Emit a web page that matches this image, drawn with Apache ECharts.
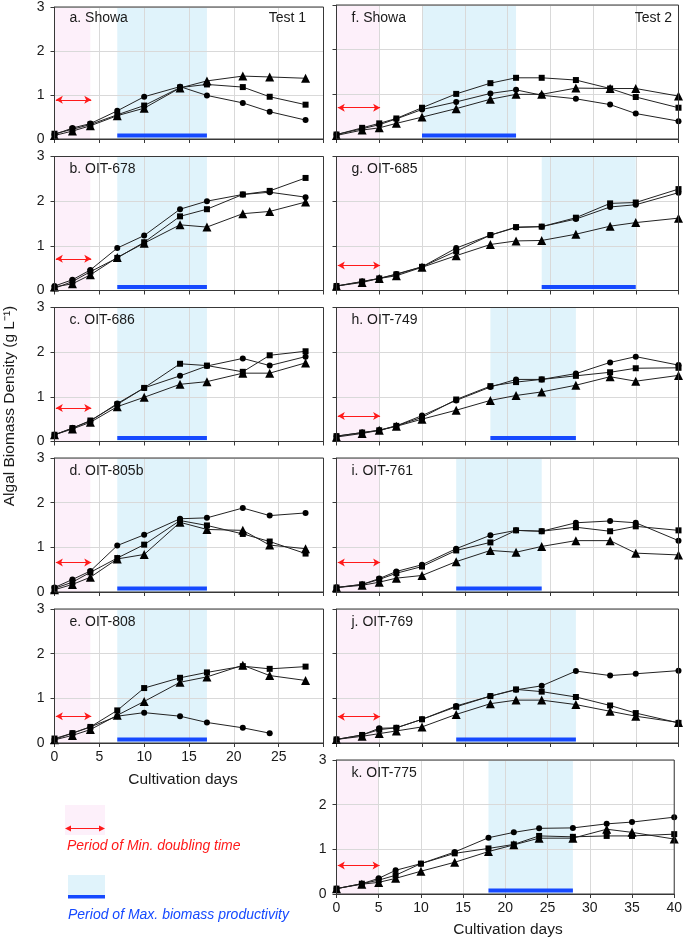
<!DOCTYPE html>
<html><head><meta charset="utf-8">
<script src="https://cdn.jsdelivr.net/npm/echarts@6/dist/echarts.min.js"></script>
<style>html,body{margin:0;padding:0;background:#fff}#c{width:685px;height:941px}</style>
</head><body><div id="c"></div>
<script>
// ---------- data ----------
const days1 = [0, 2, 4, 7, 10, 14, 17, 21, 24, 28];
const days2 = [0, 3, 5, 7, 10, 14, 18, 21, 24, 28, 32, 35, 40];

const panelTitles = ['a. Showa', 'b. OIT-678', 'c. OIT-686', 'd. OIT-805b', 'e. OIT-808',
                     'f. Showa', 'g. OIT-685', 'h. OIT-749', 'i. OIT-761', 'j. OIT-769', 'k. OIT-775'];

const aCircle   = [0.10, 0.25, 0.35, 0.64, 0.96, 1.19, 0.99, 0.82, 0.62, 0.43];
const aSquare   = [0.12, 0.22, 0.33, 0.55, 0.76, 1.17, 1.24, 1.18, 0.96, 0.78];
const aTriangle = [0.08, 0.18, 0.30, 0.53, 0.70, 1.16, 1.32, 1.43, 1.41, 1.38];

const bCircle   = [0.10, 0.24, 0.46, 0.95, 1.23, 1.82, 2.00, 2.15, 2.20, 2.09];
const bSquare   = [0.05, 0.20, 0.42, 0.73, 1.08, 1.66, 1.82, 2.15, 2.23, 2.52];
const bTriangle = [0.08, 0.15, 0.35, 0.74, 1.06, 1.47, 1.42, 1.72, 1.77, 1.98];

const cCircle   = [0.15, 0.30, 0.46, 0.85, 1.20, 1.47, 1.69, 1.86, 1.70, 1.90];
const cSquare   = [0.15, 0.30, 0.47, 0.83, 1.20, 1.74, 1.70, 1.56, 1.93, 2.02];
const cTriangle = [0.15, 0.28, 0.43, 0.78, 0.99, 1.28, 1.34, 1.53, 1.53, 1.76];

const dCircle   = [0.10, 0.28, 0.47, 1.04, 1.28, 1.64, 1.66, 1.88, 1.71, 1.77];
const dSquare   = [0.08, 0.22, 0.44, 0.76, 1.06, 1.60, 1.49, 1.30, 1.13, 0.86];
const dTriangle = [0.05, 0.17, 0.33, 0.74, 0.84, 1.56, 1.40, 1.38, 1.05, 0.97];

const eCircle   = [0.08, 0.22, 0.36, 0.60, 0.68, 0.60, 0.46, 0.34, 0.22, null];
const eSquare   = [0.10, 0.22, 0.36, 0.73, 1.23, 1.46, 1.58, 1.72, 1.66, 1.71];
const eTriangle = [0.07, 0.17, 0.30, 0.62, 0.93, 1.36, 1.48, 1.74, 1.51, 1.40];

const fCircle   = [0.10, 0.23, 0.32, 0.45, 0.66, 0.83, 1.02, 1.10, 0.98, 0.90, 0.77, 0.57, 0.40];
const fSquare   = [0.10, 0.25, 0.35, 0.46, 0.70, 1.01, 1.25, 1.37, 1.37, 1.32, 1.13, 0.94, 0.70];
const fTriangle = [0.08, 0.20, 0.25, 0.35, 0.49, 0.68, 0.89, 1.00, 1.00, 1.14, 1.13, 1.13, 0.96];

const gCircle   = [0.10, 0.20, 0.27, 0.37, 0.53, 0.95, 1.24, 1.41, 1.43, 1.60, 1.87, 1.92, 2.19];
const gSquare   = [0.10, 0.20, 0.27, 0.36, 0.53, 0.88, 1.24, 1.42, 1.43, 1.63, 1.95, 1.97, 2.27];
const gTriangle = [0.10, 0.18, 0.27, 0.33, 0.52, 0.78, 1.03, 1.11, 1.12, 1.26, 1.44, 1.52, 1.62];

const hCircle   = [0.12, 0.20, 0.25, 0.35, 0.58, 0.92, 1.22, 1.39, 1.39, 1.52, 1.77, 1.90, 1.71];
const hSquare   = [0.12, 0.20, 0.25, 0.35, 0.54, 0.94, 1.24, 1.33, 1.39, 1.47, 1.55, 1.64, 1.65];
const hTriangle = [0.10, 0.18, 0.25, 0.34, 0.50, 0.70, 0.92, 1.03, 1.11, 1.26, 1.45, 1.35, 1.48];

const iCircle   = [0.10, 0.17, 0.30, 0.46, 0.61, 0.97, 1.27, 1.38, 1.36, 1.55, 1.59, 1.55, 1.15];
const iSquare   = [0.10, 0.17, 0.28, 0.42, 0.57, 0.93, 1.11, 1.38, 1.36, 1.45, 1.36, 1.47, 1.38];
const iTriangle = [0.10, 0.15, 0.22, 0.31, 0.37, 0.68, 0.93, 0.89, 1.02, 1.15, 1.15, 0.87, 0.83];

const jCircle   = [0.08, 0.18, 0.33, 0.34, 0.53, 0.83, 1.05, 1.19, 1.28, 1.61, 1.51, 1.55, 1.62];
const jSquare   = [0.08, 0.18, 0.30, 0.34, 0.53, 0.81, 1.05, 1.20, 1.15, 1.03, 0.84, 0.67, 0.45];
const jTriangle = [0.08, 0.15, 0.21, 0.27, 0.36, 0.64, 0.88, 0.96, 0.96, 0.86, 0.71, 0.60, 0.46];

const kCircle   = [0.12, 0.23, 0.35, 0.53, 0.68, 0.94, 1.26, 1.38, 1.47, 1.48, 1.57, 1.61, 1.72];
const kSquare   = [0.12, 0.23, 0.31, 0.42, 0.68, 0.91, 1.02, 1.11, 1.30, 1.28, 1.30, 1.30, 1.34];
const kTriangle = [0.12, 0.22, 0.26, 0.35, 0.51, 0.71, 0.95, 1.10, 1.25, 1.25, 1.45, 1.38, 1.23];

// periods
const minDoublingTest1 = [0, 4];
const minDoublingTest2 = [0, 5];
const maxProdPeriods = [[7, 17], [7, 17], [7, 17], [7, 17], [7, 17],
                        [10, 21], [24, 35], [18, 28], [14, 24], [14, 28], [18, 28]];
const arrowLevels = [0.89, 0.71, 0.75, 0.66, 0.60, 0.70, 0.56, 0.57, 0.66, 0.59, 0.64];
const barLevel = 0.08;

const yTicks = [0, 1, 2, 3];

// ---------- layout ----------
const FONT = '"Liberation Sans", Arial, Helvetica, sans-serif';
const circles = [aCircle, bCircle, cCircle, dCircle, eCircle, fCircle, gCircle, hCircle, iCircle, jCircle, kCircle];
const squares = [aSquare, bSquare, cSquare, dSquare, eSquare, fSquare, gSquare, hSquare, iSquare, jSquare, kSquare];
const triangles = [aTriangle, bTriangle, cTriangle, dTriangle, eTriangle, fTriangle, gTriangle, hTriangle, iTriangle, jTriangle, kTriangle];
const tops = [5, 156.5, 307.5, 458, 609, 760];
const H = 134;
const colLeft = [54.5, 336.5];
const colWidth = [269, 342];
const PINK = '#fdf0fa', BLUE = '#e0f3fb', BAR = '#1549ff', RED = '#ff1a1a', FRAME = '#383838';

const grids = [], xAxes = [], yAxes = [], series = [], graphics = [];

for (let i = 0; i < 11; i++) {
  const col = i < 5 ? 0 : 1;
  const row = i < 5 ? i : i - 5;
  const days = col === 0 ? days1 : days2;
  const xmax = col === 0 ? 30 : 40;
  const pinkP = col === 0 ? minDoublingTest1 : minDoublingTest2;
  const showX = (i === 4 || i === 10);
  const showY = (col === 0 || i === 10);
  const left = colLeft[col], top = tops[row];
  grids.push({left: left, top: top, width: colWidth[col], height: H, show: true,
    borderColor: FRAME, borderWidth: 1, backgroundColor: 'rgba(0,0,0,0)', z: 10});
  xAxes.push({gridIndex: i, type: 'value', min: 0, max: xmax, interval: 5, z: 5,
    axisLine: {show: true, onZero: false, lineStyle: {color: FRAME, width: 1}},
    axisTick: {show: true, inside: false, length: 4, lineStyle: {color: FRAME}},
    axisLabel: {show: showX, fontSize: 14, color: '#1a1a1a', margin: 7, fontFamily: FONT,
      formatter: v => (col === 0 && v === 30) ? '' : String(v)},
    splitLine: {show: true, lineStyle: {color: '#d9d9d9', width: 1}}});
  yAxes.push({gridIndex: i, type: 'value', min: yTicks[0], max: yTicks[yTicks.length - 1], interval: 1, z: 5,
    axisLine: {show: true, onZero: false, lineStyle: {color: FRAME, width: 1}},
    axisTick: {show: true, inside: false, length: 4, lineStyle: {color: FRAME}},
    axisLabel: {show: showY, fontSize: 14, color: '#1a1a1a', margin: 10, fontFamily: FONT},
    splitLine: {show: true, lineStyle: {color: '#d9d9d9', width: 1}}});

  const per = maxProdPeriods[i];
  // shading host series
  series.push({type: 'line', xAxisIndex: i, yAxisIndex: i, data: [], z: 1, silent: true,
    markArea: {silent: true, data: [
      [{xAxis: pinkP[0], itemStyle: {color: PINK}}, {xAxis: pinkP[1]}],
      [{xAxis: per[0], itemStyle: {color: BLUE}}, {xAxis: per[1]}]
    ]},
    markLine: {silent: true, symbol: ['arrow', 'arrow'], symbolSize: [6, 7], animation: false,
      label: {show: false}, lineStyle: {color: RED, width: 1, type: 'solid'},
      data: [[{coord: [pinkP[0] + 0.15, arrowLevels[i]]}, {coord: [pinkP[1] + 0.1, arrowLevels[i]]}]]}
  });
  // max productivity bar
  series.push({type: 'line', xAxisIndex: i, yAxisIndex: i, z: 6, silent: true, symbol: 'none',
    data: [[per[0], barLevel], [per[1], barLevel]], lineStyle: {color: BAR, width: 4}});
  // data
  const sets = [[circles[i], 'circle', 6], [squares[i], 'rect', 6], [triangles[i], 'triangle', 9]];
  sets.forEach(([vals, sym, size]) => {
    series.push({type: 'line', xAxisIndex: i, yAxisIndex: i, z: 8, symbol: sym, symbolSize: size,
      showAllSymbol: true, connectNulls: false, animation: false,
      data: days.map((d, k) => [d, vals[k]]),
      lineStyle: {color: '#222', width: 1}, itemStyle: {color: '#000'}});
  });

  graphics.push({type: 'text', x: left + 15, y: top + 13, z: 20,
    style: {text: panelTitles[i], font: '14px ' + FONT, fill: '#1a1a1a', textAlign: 'left', textVerticalAlign: 'middle'}});
}
graphics.push({type: 'text', x: 306, y: 18, z: 20,
  style: {text: 'Test 1', font: '14px ' + FONT, fill: '#1a1a1a', textAlign: 'right', textVerticalAlign: 'middle'}});
graphics.push({type: 'text', x: 672, y: 18, z: 20,
  style: {text: 'Test 2', font: '14px ' + FONT, fill: '#1a1a1a', textAlign: 'right', textVerticalAlign: 'middle'}});
graphics.push({type: 'text', x: 183, y: 780, z: 20,
  style: {text: 'Cultivation days', font: '15.5px ' + FONT, fill: '#1a1a1a', textAlign: 'center', textVerticalAlign: 'middle'}});
graphics.push({type: 'text', x: 508, y: 930, z: 20,
  style: {text: 'Cultivation days', font: '15.5px ' + FONT, fill: '#1a1a1a', textAlign: 'center', textVerticalAlign: 'middle'}});
graphics.push({type: 'text', x: 10, y: 406, rotation: Math.PI / 2, z: 20,
  style: {text: 'Algal Biomass Density (g L\u207B\u00B9)', font: '15.5px ' + FONT, fill: '#1a1a1a', textAlign: 'center', textVerticalAlign: 'middle'}});

// legend
graphics.push({type: 'rect', shape: {x: 65, y: 805, width: 40, height: 30}, style: {fill: PINK}, z: 20});
graphics.push({type: 'line', shape: {x1: 66, y1: 828.5, x2: 104, y2: 828.5}, style: {stroke: RED, lineWidth: 1}, z: 21});
graphics.push({type: 'polygon', shape: {points: [[65, 828.5], [71, 825.5], [71, 831.5]]}, style: {fill: RED}, z: 21});
graphics.push({type: 'polygon', shape: {points: [[105, 828.5], [99, 825.5], [99, 831.5]]}, style: {fill: RED}, z: 21});
graphics.push({type: 'text', x: 67, y: 846, z: 20,
  style: {text: 'Period of Min. doubling time', font: 'italic 14px ' + FONT, fill: RED, textAlign: 'left', textVerticalAlign: 'middle'}});
graphics.push({type: 'rect', shape: {x: 68, y: 875, width: 37, height: 20}, style: {fill: BLUE}, z: 20});
graphics.push({type: 'rect', shape: {x: 68, y: 895, width: 37, height: 3.5}, style: {fill: BAR}, z: 21});
graphics.push({type: 'text', x: 68, y: 915, z: 20,
  style: {text: 'Period of Max. biomass productivity', font: 'italic 14px ' + FONT, fill: BAR, textAlign: 'left', textVerticalAlign: 'middle'}});

const chart = echarts.init(document.getElementById('c'), null, {renderer: 'canvas'});
chart.setOption({
  animation: false,
  backgroundColor: '#fff',
  textStyle: {fontFamily: FONT},
  grid: grids, xAxis: xAxes, yAxis: yAxes, series: series, graphic: graphics
});
</script>
</body></html>
